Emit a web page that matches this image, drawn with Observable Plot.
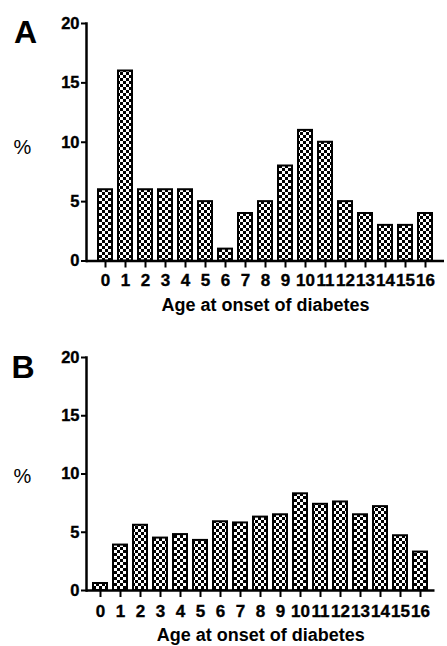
<!DOCTYPE html>
<html>
<head>
<meta charset="utf-8">
<script src="https://cdn.jsdelivr.net/npm/d3@7"></script>
<script src="https://cdn.jsdelivr.net/npm/@observablehq/plot@0.6"></script>
<style>
  html, body { margin: 0; padding: 0; background: #fff; }
  #chart svg { display: block; }
  #chart svg text.bold { stroke: #000; stroke-width: 0.35px; }
</style>
</head>
<body>
<div id="chart"></div>
<script>
const ages = ["0","1","2","3","4","5","6","7","8","9","10","11","12","13","14","15","16"];
const valuesA = [6, 16, 6, 6, 6, 5, 1, 4, 5, 8, 11, 10, 5, 4, 3, 3, 4];
const valuesB = [0.6, 3.9, 5.6, 4.5, 4.8, 4.3, 5.9, 5.8, 6.3, 6.5, 8.3, 7.4, 7.6, 6.5, 7.2, 4.7, 3.3];
const yTicks = [0, 5, 10, 15, 20];
const xTitle = "Age at onset of diabetes";
const yTitle = "%";

function panel({letter, values, patternId, height, marginTop, marginBottom, marginRight, paddingInner, paddingOuter, letterDx, letterDy, pctDy, titleDy, labelPad}) {
  const data = ages.map((a, i) => ({age: a, value: values[i]}));
  const svg = Plot.plot({
    width: 447,
    height,
    marginLeft: 86,
    marginRight,
    marginTop,
    marginBottom,
    style: {fontFamily: "'Liberation Sans', Arial, sans-serif", fontSize: "16px", fontWeight: "bold", background: "#fff", color: "#000"},
    x: {domain: ages, paddingInner, paddingOuter, label: null},
    y: {domain: [0, 20], label: null},
    marks: [
      Plot.barY(data, {x: "age", y: "value", fill: `url(#${patternId})`, stroke: "#000", strokeWidth: 2}),
      Plot.frame({anchor: "left", stroke: "#000", strokeWidth: 2.5}),
      Plot.ruleY([0], {stroke: "#000", strokeWidth: 2.5}),
      Plot.axisY({ticks: yTicks, tickSize: 5, tickPadding: 2, strokeWidth: 2, label: null, fontSize: 16.5, fontWeight: "bold", className: "bold"}),
      Plot.axisX({tickSize: 7, tickPadding: labelPad, strokeWidth: 2, label: null, fontSize: 17, fontWeight: "bold", className: "bold"}),
      Plot.text([letter], {frameAnchor: "top-left", text: d => d, dx: letterDx, dy: letterDy, lineAnchor: "top", textAnchor: "middle", fontSize: 32, fontWeight: "bold"}),
      Plot.text([yTitle], {frameAnchor: "left", text: d => d, dx: -64, dy: pctDy, lineAnchor: "middle", textAnchor: "middle", fontSize: 20, fontWeight: "normal"}),
      Plot.text([xTitle], {frameAnchor: "bottom", text: d => d, dy: titleDy, lineAnchor: "top", textAnchor: "middle", fontSize: 18, fontWeight: "bold"})
    ]
  });
  svg.querySelectorAll("g[aria-label='x-axis tick label'] text, g[aria-label='y-axis tick label'] text").forEach(t => t.classList.add("bold"));
  const ns = "http://www.w3.org/2000/svg";
  const defs = document.createElementNS(ns, "defs");
  defs.innerHTML = `<pattern id="${patternId}" width="6" height="6" patternUnits="userSpaceOnUse">
      <rect width="6" height="6" fill="#fff"/>
      <rect width="3" height="3" fill="#000"/>
      <rect x="3" y="3" width="3" height="3" fill="#000"/>
    </pattern>`;
  svg.insertBefore(defs, svg.firstChild);
  return svg;
}

const chart = document.getElementById("chart");
chart.appendChild(panel({
  letter: "A", values: valuesA, patternId: "checkA",
  height: 325, marginTop: 23, marginBottom: 64.5, marginRight: 3,
  paddingInner: 0.28, paddingOuter: 0.2,
  letterDx: -61, letterDy: -3, pctDy: 5, titleDy: 37, labelPad: 6
}));
chart.appendChild(panel({
  letter: "B", values: valuesB, patternId: "checkB",
  height: 321, marginTop: 32, marginBottom: 56, marginRight: 12.5,
  paddingInner: 0.31, paddingOuter: 0.28,
  letterDx: -63.5, letterDy: -2, pctDy: 3, titleDy: 37.5, labelPad: 7
}));
</script>
</body>
</html>
